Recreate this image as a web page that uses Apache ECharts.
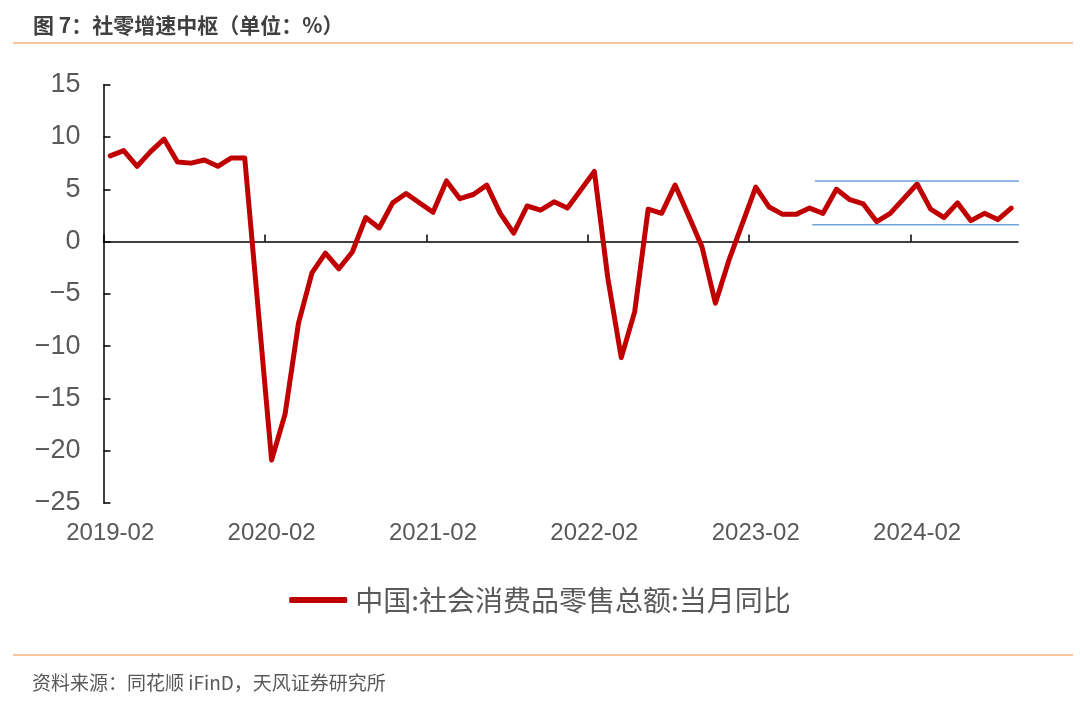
<!DOCTYPE html>
<html><head><meta charset="utf-8">
<script src="https://cdn.jsdelivr.net/npm/echarts@6/dist/echarts.min.js"></script>
<style>html,body{margin:0;padding:0;background:#fff}#c{width:1080px;height:705px}</style>
</head><body><div id="c"></div>
<script>
// Monthly values (January is merged into February in the source, so January is null)
const v2019 = [8.2, 8.7, 7.2, 8.6, 9.8, 7.6, 7.5, 7.8, 7.2, 8.0, 8.0];            // Feb-Dec
const v2020 = [null, -20.9, -16.5, -7.8, -3.0, -1.1, -2.6, -1.0, 2.3, 1.3, 3.7, 4.6];
const v2021 = [null, 2.8, 5.8, 4.1, 4.5, 5.4, 2.7, 0.8, 3.4, 3.0, 3.8, 3.2];
const v2022 = [null, 6.7, -3.5, -11.1, -6.7, 3.1, 2.7, 5.4, 2.5, -0.5, -5.9, -1.8];
const v2023 = [null, 5.2, 3.3, 2.6, 2.6, 3.2, 2.7, 5.0, 4.0, 3.6, 1.9, 2.7];
const v2024 = [null, 5.5, 3.1, 2.3, 3.7, 2.0, 2.7, 2.1, 3.2];                     // Jan-Sep
const years = [2019, 2020, 2021, 2022, 2023, 2024];
const yearValues = [v2019, v2020, v2021, v2022, v2023, v2024];
const seriesName = '中国:社会消费品零售总额:当月同比';
// Annotation band (central range), x in month-slot units from the first slot
const bandUpper = [[52.9, 5.8], [68.4, 5.8]];
const bandLower = [[52.7, 1.6], [68.1, 1.6]];
const yTicks = { min: -25, max: 15, step: 5 };

const months = [];
years.forEach((y, i) => {
  const vals = yearValues[i];
  const start = (i === 0) ? 2 : 1;
  vals.forEach((v, k) => {
    const m = start + k;
    months.push(y + '-' + (m < 10 ? '0' + m : '' + m));
  });
});
const values = [].concat(...yearValues);

const chart = echarts.init(document.getElementById('c'), null, { renderer: 'canvas' });
const gray = '#595959';
chart.setOption({
  animation: false,
  backgroundColor: '#fff',
  title: [
    { text: '图 7：社零增速中枢（单位：%）', left: 28, top: 10,
      textStyle: { fontSize: 21, fontWeight: 'bold', color: '#404040', fontFamily: 'Noto Sans CJK SC' } },
    { text: '资料来源：同花顺 iFinD，天风证券研究所', left: 27, top: 668,
      textStyle: { fontSize: 19, fontWeight: 'normal', color: gray, fontFamily: 'Noto Sans CJK SC' } }
  ],
  graphic: [
    { type: 'line', shape: { x1: 13, y1: 43, x2: 1073, y2: 43 }, style: { stroke: '#F4B183', lineWidth: 1.5 } },
    { type: 'line', shape: { x1: 13, y1: 655, x2: 1073, y2: 655 }, style: { stroke: '#F4B183', lineWidth: 1.5 } }
  ],
  legend: {
    data: [seriesName], left: 'center', top: 581,
    icon: 'roundRect', itemWidth: 58, itemHeight: 6,
    textStyle: { fontSize: 28, color: gray, fontFamily: 'Noto Sans CJK SC', padding: [0, 0, 0, 3] }
  },
  grid: { left: 103.5, right: 62, top: 84.7, bottom: 202, containLabel: false },
  xAxis: [
    { type: 'category', data: months, boundaryGap: true, position: 'bottom',
      axisLine: { show: false, onZero: false }, axisTick: { show: false }, splitLine: { show: false },
      axisLabel: { interval: (i, v) => v.endsWith('-02'), fontSize: 24, color: gray,
                   fontFamily: 'Liberation Sans', margin: 18 } },
    { type: 'value', min: 0, max: months.length, interval: 12, position: 'bottom',
      axisLine: { show: true, onZero: true, lineStyle: { color: '#000', width: 1.5 } },
      axisTick: { show: true, inside: true, length: 7, lineStyle: { color: '#000', width: 1.5 },
                  customValues: [0, 12, 24, 36, 48, 60] },
      axisLabel: { show: false }, splitLine: { show: false } }
  ],
  yAxis: {
    type: 'value', min: yTicks.min, max: yTicks.max, interval: yTicks.step,
    axisLine: { show: true, onZero: false, lineStyle: { color: '#000', width: 1.5 } },
    axisTick: { show: true, inside: true, length: 7, lineStyle: { color: '#000', width: 1.5 } },
    splitLine: { show: false },
    axisLabel: { fontSize: 27, color: gray, fontFamily: 'Liberation Sans', margin: 23,
                 formatter: v => (v < 0 ? '\u2212' + Math.abs(v) : '' + v) }
  },
  series: [
    { name: seriesName, type: 'line', xAxisIndex: 0, data: values, connectNulls: true,
      symbol: 'none', color: '#C00000',
      lineStyle: { color: '#C00000', width: 5, join: 'round', cap: 'round' } },
    { name: 'upper', type: 'line', xAxisIndex: 1, data: bandUpper, symbol: 'none', clip: false, silent: true,
      lineStyle: { color: '#6FA3D9', width: 1.5 } },
    { name: 'lower', type: 'line', xAxisIndex: 1, data: bandLower, symbol: 'none', clip: false, silent: true,
      lineStyle: { color: '#6FA3D9', width: 1.5 } }
  ]
});
</script>
</body></html>
